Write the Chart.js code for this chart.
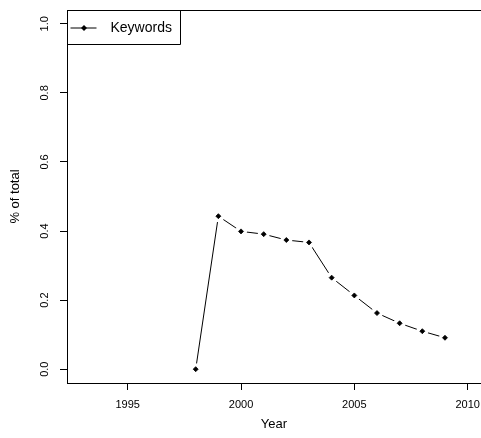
<!DOCTYPE html>
<html>
<head>
<meta charset="utf-8">
<script src="https://cdn.jsdelivr.net/npm/chart.js@4"></script>
<style>
  html, body { margin: 0; padding: 0; overflow: hidden; background: #fff; }
  #wrap { width: 481px; height: 438px; }
</style>
</head>
<body>
<div id="wrap"><canvas id="chart" width="481" height="438"></canvas></div>
<script>
// data
var years = [1998, 1999, 2000, 2001, 2002, 2003, 2004, 2005, 2006, 2007, 2008, 2009];
var keywords = [0.0, 0.443, 0.399, 0.391, 0.374, 0.367, 0.265, 0.2135, 0.1625, 0.133, 0.11, 0.091];
var xTicks = [1995, 2000, 2005, 2010];
var yTicks = [0, 0.2, 0.4, 0.6, 0.8, 1.0];
var seriesName = 'Keywords';

var FONT = '"Liberation Sans", Arial, sans-serif';
Chart.defaults.font.family = FONT;

var points = years.map(function (y, i) { return { x: y, y: keywords[i] }; });

// top edge of the box, rotated y labels and the legend (R base style)
var rPlot = {
    id: 'rPlot',
    afterDraw: function (chart) {
        var ctx = chart.ctx;
        var a = chart.chartArea;
        var ys = chart.scales.y;
        var L = Math.round(a.left) + 0.5, T = Math.round(a.top) + 0.5;
        ctx.save();
        ctx.strokeStyle = '#000';
        ctx.fillStyle = '#000';
        ctx.lineWidth = 1;
        ctx.beginPath();
        ctx.moveTo(L, T);
        ctx.lineTo(chart.width + 5, T);
        ctx.stroke();

        // y tick labels, rotated
        ctx.font = '11px ' + FONT;
        ctx.textAlign = 'center';
        ctx.textBaseline = 'middle';
        yTicks.forEach(function (v) {
            ctx.save();
            ctx.translate(a.left - 22, ys.getPixelForValue(v));
            ctx.rotate(-Math.PI / 2);
            ctx.fillText(v.toFixed(1), 0, 0);
            ctx.restore();
        });

        // legend box top-left
        ctx.beginPath();
        ctx.rect(L, T, 113, 34);
        ctx.stroke();
        var my = T + 17.5;
        ctx.beginPath();
        ctx.moveTo(L + 3, my);
        ctx.lineTo(L + 29, my);
        ctx.stroke();
        var cx = L + 16.5;
        ctx.beginPath();
        ctx.moveTo(cx - 3, my);
        ctx.lineTo(cx, my - 3);
        ctx.lineTo(cx + 3, my);
        ctx.lineTo(cx, my + 3);
        ctx.closePath();
        ctx.fill();
        ctx.font = '14px ' + FONT;
        ctx.textAlign = 'left';
        ctx.fillText(seriesName, L + 43, my);
        ctx.restore();
    }
};

new Chart(document.getElementById('chart'), {
    type: 'line',
    data: {
        datasets: [{
            label: seriesName,
            data: points,
            borderColor: '#000',
            borderWidth: 1,
            pointRadius: 0,
            tension: 0,
            order: 2
        }, {
            // white gap round each point (R type = "b")
            label: 'gap',
            data: points,
            showLine: false,
            pointRadius: 6,
            pointBorderWidth: 0,
            pointBackgroundColor: '#fff',
            pointBorderColor: '#fff',
            order: 1
        }, {
            label: 'pts',
            data: points,
            showLine: false,
            pointStyle: 'rectRot',
            pointRadius: 2.5,
            pointBorderWidth: 0.8,
            pointBackgroundColor: '#000',
            pointBorderColor: '#000',
            order: 0
        }]
    },
    options: {
        responsive: false,
        animation: false,
        layout: { autoPadding: false, padding: { top: 10, right: 0, left: 0, bottom: 0 } },
        plugins: {
            legend: { display: false },
            tooltip: { enabled: false }
        },
        scales: {
            x: {
                type: 'linear',
                min: 1992.32,
                max: 2010.59,
                afterBuildTicks: function (s) { s.ticks = xTicks.map(function (v) { return { value: v }; }); },
                afterFit: function (s) { s.height = 55; s.paddingLeft = 0; s.paddingRight = 0; },
                border: { display: true, color: '#000', width: 1 },
                grid: { drawOnChartArea: false, tickLength: 7, color: '#000' },
                ticks: {
                    color: '#000',
                    font: { size: 11 },
                    padding: 8,
                    maxRotation: 0,
                    autoSkip: false,
                    callback: function (v) { return String(v); }
                },
                title: { display: true, text: 'Year', color: '#000', font: { size: 13 }, padding: { top: 0, bottom: 6 } }
            },
            y: {
                min: -0.04,
                max: 1.04,
                afterBuildTicks: function (s) { s.ticks = yTicks.map(function (v) { return { value: v }; }); },
                afterFit: function (s) { s.width = 67; },
                border: { display: true, color: '#000', width: 1 },
                grid: { drawOnChartArea: false, tickLength: 7, color: '#000' },
                ticks: { display: false },
                title: { display: true, text: '% of total', color: '#000', font: { size: 13 }, padding: { top: 8, bottom: 0 } }
            }
        }
    },
    plugins: [rPlot]
});
</script>
</body>
</html>
